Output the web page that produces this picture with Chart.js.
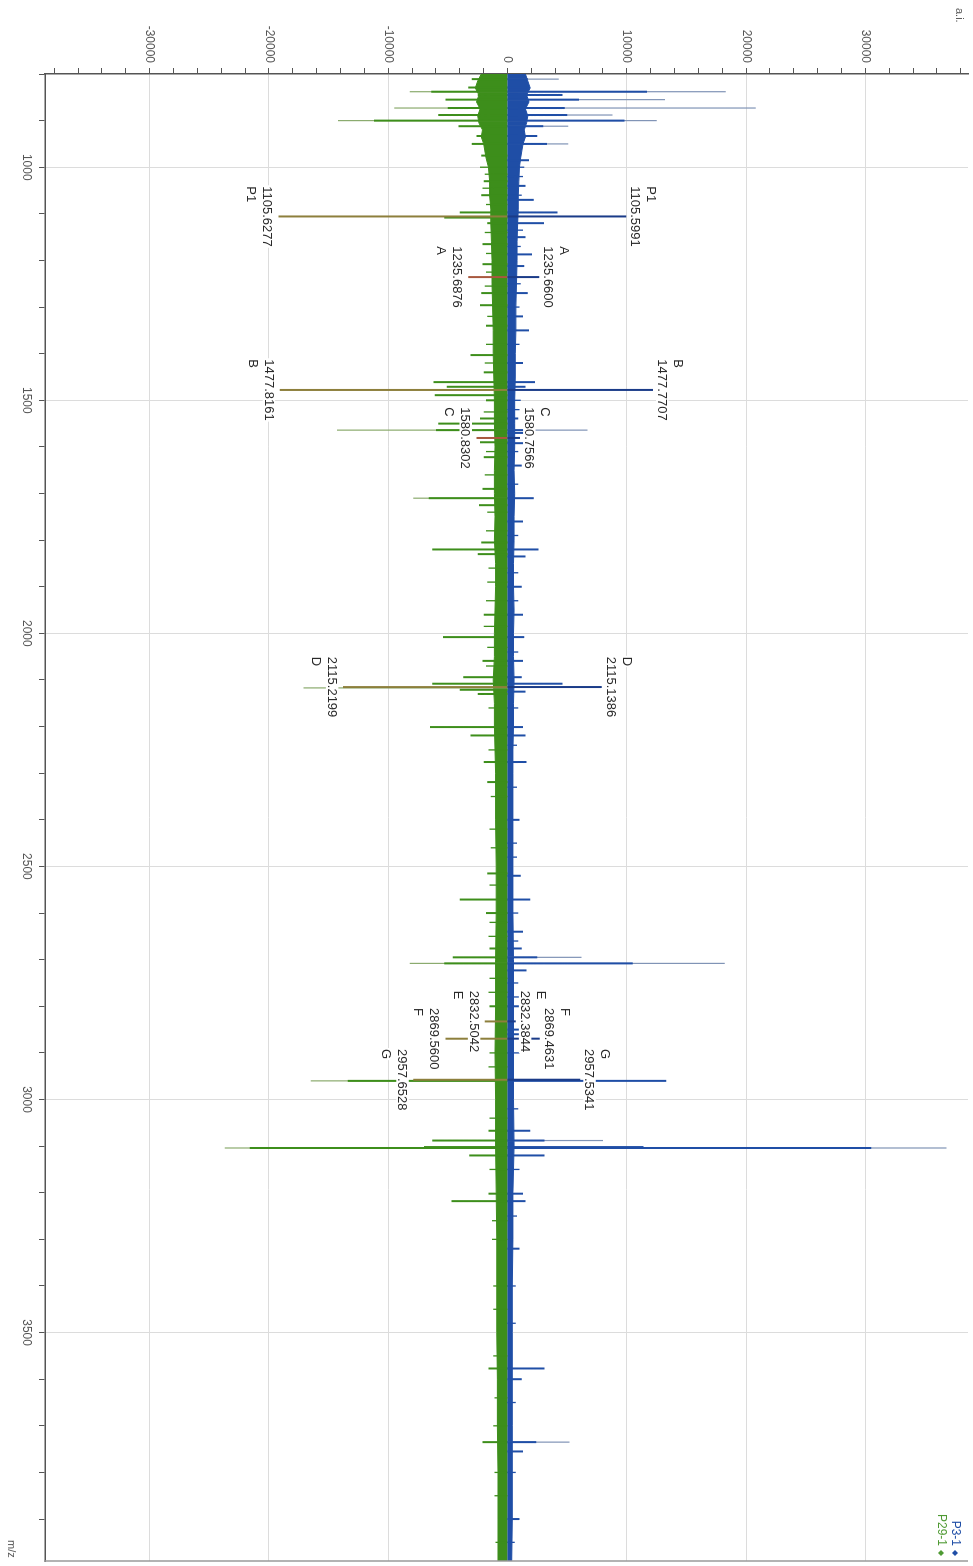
<!DOCTYPE html>
<html><head><meta charset="utf-8">
<script src="https://cdn.jsdelivr.net/npm/chart.js@4.4.0/dist/chart.umd.min.js"></script>
<style>
html,body{margin:0;padding:0;background:#fff;overflow:hidden;width:973px;height:1566px;}
#wrap{position:absolute;left:0;top:0;width:1566px;height:973px;transform-origin:0 0;transform:translate(973px,0) rotate(90deg);background:#fff;}
canvas{display:block;}
</style></head><body>
<div id="wrap"><canvas id="c" width="1566" height="973"></canvas></div>
<script>
// ---------- data ----------
const seriesNames = ['P3-1', 'P29-1'];

// noise band envelope (m/z, intensity)
const noiseMz = [800,815,830,845,860,875,890,905,920,935,950,965,980,1000,1030,1060,1090,1120,1160,1200,1250,1300,1350,1400,1450,1500,1550,1600,1650,1700,1750,1800,1850,1900,1950,2000,2050,2100,2150,2200,2250,2300,2400,2500,2600,2700,2800,2900,3000,3100,3200,3300,3400,3500,3600,3700,3800,3900,3990];
const noiseBlue = [1500,1700,1900,1600,1800,1500,1700,1600,1400,1500,1300,1200,1100,1000,950,900,900,850,800,800,750,700,700,650,650,600,600,600,550,600,550,550,500,500,550,500,500,550,500,500,450,450,450,450,450,500,500,500,500,550,450,450,400,400,400,400,400,400,350];
const noiseGreen = [-2200,-2500,-2700,-2400,-2600,-2300,-2500,-2400,-2100,-2200,-2000,-1900,-1800,-1600,-1500,-1500,-1400,-1400,-1350,-1300,-1300,-1250,-1200,-1200,-1150,-1100,-1100,-1050,-1100,-1100,-1050,-1100,-1000,-1000,-1050,-1100,-1100,-1200,-1100,-1100,-1050,-1000,-1000,-950,-950,-1000,-1000,-1050,-1000,-1000,-950,-900,-900,-900,-850,-850,-800,-800,-800];

// P3-1 (positive) peaks
const blueMz  = [811,829,838,845,855,873,888,900,912,933,950,985,1040,1070,1097,1120,1150,1187,1212,1270,1320,1350,1420,1461,1471,1539,1564,1570,1592,1640,1710,1760,1820,1835,1900,1960,2008,2059,2094,2108,2125,2201,2219,2276,2400,2520,2571,2640,2676,2695,2708,2723,2800,2850,2860,2960,3067,3088,3102,3104,3120,3202,3218,3320,3577,3600,3735,3755,3900];
const blueInt = [1700,1600,11700,4600,6000,4800,5000,9800,3000,2500,3300,1800,1500,2200,4200,3050,1500,2050,1400,1700,1300,1800,1300,2300,1500,900,1800,1500,1400,1200,2200,1300,2600,1500,1200,1300,1400,1300,1200,4600,1500,1300,1500,1600,1000,1100,1900,1300,1200,2500,10500,1600,1100,1800,1500,13300,1900,3100,11400,30500,3100,1300,1500,1000,3100,1200,2400,1300,1000];
const blueTipMz  = [811,838,855,873,888,900,912,950,1564,2695,2708,3088,3104,3735];
const blueTipInt = [4300,18300,13200,20800,8800,12500,5100,5100,6700,6200,18200,8000,36800,5200];
const blueMinorMz  = [1000,1020,1060,1135,1170,1250,1300,1380,1500,1520,1610,1680,1790,1870,1930,2040,2160,2240,2330,2450,2480,2600,2660,2750,2780,2900,3020,3150,3250,3400,3480,3650,3800,3950];
const blueMinorInt = [1400,1300,1200,1300,1100,1100,1000,1000,1100,1000,900,900,900,900,900,900,900,800,800,800,800,900,900,900,1000,1000,900,1000,800,700,700,700,700,600];

// P29-1 (negative) peaks
const greenMz  = [811,829,838,845,855,873,888,900,912,933,950,975,1030,1060,1097,1108,1120,1165,1208,1270,1296,1340,1403,1440,1461,1471,1489,1500,1539,1550,1564,1590,1622,1690,1710,1725,1805,1820,1830,1960,2008,2059,2094,2108,2121,2130,2201,2219,2276,2319,2515,2571,2600,2676,2695,2708,2800,2960,3067,3088,3102,3104,3120,3202,3218,3577,3735];
const greenInt = [-3000,-3300,-6400,-2500,-5200,-5000,-5800,-11200,-4100,-2600,-3000,-2200,-2000,-2200,-4000,-5300,-1700,-2100,-2100,-2200,-2300,-1800,-3100,-2000,-6200,-5100,-6100,-1800,-2300,-5800,-6000,-2300,-2000,-2100,-6600,-2400,-2200,-6300,-2500,-2000,-5400,-2100,-3700,-6300,-4000,-2500,-6500,-3100,-2000,-1700,-1700,-4000,-1800,-1500,-4600,-5300,-1500,-13400,-1600,-6300,-7000,-21600,-3200,-1600,-4700,-1600,-2100];
const greenTipMz  = [838,873,900,1564,1710,2117,2708,2960,3104];
const greenTipInt = [-8200,-9500,-14200,-14300,-7900,-17100,-8200,-16500,-23700];
const greenMinorMz  = [1000,1015,1045,1080,1140,1185,1225,1255,1320,1380,1420,1525,1610,1660,1740,1780,1860,1890,1930,1985,2030,2070,2160,2250,2350,2420,2460,2540,2620,2650,2740,2770,2900,2930,3040,3150,3260,3300,3400,3450,3550,3640,3700,3800,3850,3950];
const greenMinorInt = [-2300,-1900,-2100,-1800,-1900,-1800,-1800,-1900,-1700,-1800,-1900,-2000,-1800,-1900,-1700,-1800,-1600,-1700,-1800,-2000,-1700,-1800,-1600,-1600,-1400,-1500,-1400,-1500,-1500,-1600,-1500,-1600,-1500,-1600,-1500,-1500,-1300,-1300,-1200,-1200,-1200,-1100,-1200,-1100,-1100,-1000];

// annotated peaks
const blueLabelMz   = [1105.5991,1235.6600,1477.7707,1580.7566,2115.1386,2832.3844,2869.4631,2957.5341];
const blueLabelInt  = [9950,2650,12200,1050,7900,700,2700,6100];
const blueLabelTag  = ['P1','A','B','C','D','E','F','G'];
const greenLabelMz  = [1105.6277,1235.6876,1477.8161,1580.8302,2115.2199,2832.5042,2869.5600,2957.6528];
const greenLabelInt = [-19200,-3300,-19100,-2600,-13800,-1900,-5200,-7900];
const greenLabelTag = ['P1','A','B','C','D','E','F','G'];

// axis ranges / ticks
const mzMin = 800, mzMax = 3990, mzStep = 100, mzMajor = 500;
const intMin = -38770, intMax = 38600, intStep = 2000, intMajor = 10000;

// ---------- build ----------
function sticks(mz, val){
  const out = [];
  for (let i = 0; i < mz.length; i++){
    out.push({x: mz[i], y: 0}, {x: mz[i], y: val[i]}, {x: mz[i], y: null});
  }
  return out;
}
function band(mz, val){ return mz.map((m, i) => ({x: m, y: val[i]})); }
function isMajor(v, m){ const q = Number(v) / m; return Math.abs(q - Math.round(q)) < 1e-6; }
function tickValues(min, max, step){
  const out = [];
  for (let k = Math.ceil(min / step); k * step <= max; k++) out.push(k * step);
  return out;
}

const BLUE = '#1f4ea6', BLUE_TIP = '#8094b6', BLUE_LAB = '#1a3b88';
const GREEN = '#3d8e1b', GREEN_TIP = '#8bab6e', OLIVE = '#8d7f3c', RUST = '#a8583e';
const greenLabelColors = greenLabelTag.map(t => (t === 'A' || t === 'C') ? RUST : OLIVE);

const datasets = [
  {label:'bandBlue', data: band(noiseMz, noiseBlue), borderColor: BLUE, backgroundColor: BLUE, borderWidth: 1, fill: 'origin', pointRadius: 0, tension: 0, order: 6},
  {label:'bandGreen', data: band(noiseMz, noiseGreen), borderColor: GREEN, backgroundColor: GREEN, borderWidth: 1, fill: 'origin', pointRadius: 0, tension: 0, order: 6},
  {label:'minorBlue', data: sticks(blueMinorMz, blueMinorInt), borderColor: BLUE, borderWidth: 1.3, fill: false, pointRadius: 0, spanGaps: false, order: 5},
  {label:'minorGreen', data: sticks(greenMinorMz, greenMinorInt), borderColor: GREEN, borderWidth: 1.3, fill: false, pointRadius: 0, spanGaps: false, order: 5},
  {label:'tipBlue', data: sticks(blueTipMz, blueTipInt), borderColor: BLUE_TIP, borderWidth: 1.2, fill: false, pointRadius: 0, spanGaps: false, order: 4},
  {label:'tipGreen', data: sticks(greenTipMz, greenTipInt), borderColor: GREEN_TIP, borderWidth: 1.2, fill: false, pointRadius: 0, spanGaps: false, order: 4},
  {label:'blue', data: sticks(blueMz, blueInt), borderColor: BLUE, borderWidth: 2, fill: false, pointRadius: 0, spanGaps: false, order: 3},
  {label:'green', data: sticks(greenMz, greenInt), borderColor: GREEN, borderWidth: 2, fill: false, pointRadius: 0, spanGaps: false, order: 3},
  {label:'blueLab', data: sticks(blueLabelMz, blueLabelInt), borderColor: BLUE_LAB, borderWidth: 2, fill: false, pointRadius: 0, spanGaps: false, order: 2}
];
greenLabelMz.forEach((m, i) => {
  datasets.push({label:'greenLab'+i, data: sticks([m], [greenLabelInt[i]]), borderColor: greenLabelColors[i], borderWidth: 2, fill: false, pointRadius: 0, spanGaps: false, order: 2});
});

const FONT = '"Liberation Sans", Arial, Helvetica, sans-serif';

const annot = {
  id: 'annot',
  afterDatasetsDraw(chart){
    const {ctx, scales: {x, y}, chartArea: ca} = chart;
    ctx.save();
    ctx.font = '13px ' + FONT;
    ctx.textAlign = 'left';
    ctx.textBaseline = 'alphabetic';
    function put(mz, tip, tag, sign){
      const px = x.getPixelForValue(mz), py = y.getPixelForValue(tip);
      const num = mz.toFixed(4);
      const w = ctx.measureText(num).width, wt = ctx.measureText(tag).width;
      const left = px - w / 2;
      let b1, b2;
      if (sign > 0){ b1 = py - 5; b2 = b1 - 16; }
      else { b1 = py + 15; b2 = b1 + 16; }
      ctx.fillStyle = '#fff';
      ctx.fillRect(left - 1, b1 - 10.5, w + 2, 12.5);
      ctx.fillRect(left - 1, b2 - 10.5, wt + 2, 12.5);
      ctx.fillStyle = '#2a2a2a';
      ctx.fillText(num, left, b1);
      ctx.fillText(tag, left, b2);
    }
    blueLabelMz.forEach((m, i) => put(m, blueLabelInt[i], blueLabelTag[i], 1));
    greenLabelMz.forEach((m, i) => put(m, greenLabelInt[i], greenLabelTag[i], -1));
    // right frame line
    ctx.strokeStyle = '#9a9a9a'; ctx.lineWidth = 1.5;
    ctx.beginPath(); ctx.moveTo(ca.right, ca.top); ctx.lineTo(ca.right, ca.bottom + 1); ctx.stroke();
    // axis titles
    ctx.fillStyle = '#555';
    ctx.font = '11px ' + FONT;
    ctx.textBaseline = 'top';
    ctx.fillText('a.i.', 8, 8);
    ctx.fillText('m/z', 1540, 956);
    // legend
    ctx.font = '12px ' + FONT;
    ctx.textAlign = 'right';
    const legCols = [BLUE, '#4f9a33'];
    seriesNames.forEach((n, i) => {
      const yy = 12 + i * 14;
      ctx.fillStyle = legCols[i];
      ctx.fillText(n, 1546, yy);
      const cx = 1553, cy = yy + 6;
      ctx.beginPath(); ctx.moveTo(cx, cy - 3); ctx.lineTo(cx + 3, cy); ctx.lineTo(cx, cy + 3); ctx.lineTo(cx - 3, cy); ctx.closePath(); ctx.fill();
    });
    ctx.restore();
  }
};

function tickLabel(major){
  return function(value){ return isMajor(value, major) ? String(Math.round(Number(value))) : ''; };
}
function gridCol(major){
  return function(c){ const v = c && c.tick ? c.tick.value : NaN; return isMajor(v, major) ? '#dcdcdc' : 'rgba(0,0,0,0)'; };
}
function noPad(s){ s.paddingTop = 0; s.paddingBottom = 0; s.paddingLeft = 0; s.paddingRight = 0; }

new Chart(document.getElementById('c'), {
  type: 'line',
  data: {datasets},
  plugins: [annot],
  options: {
    responsive: false,
    devicePixelRatio: 1,
    animation: false,
    events: [],
    layout: {padding: {left: 0, right: 5, top: 5, bottom: 0}},
    plugins: {legend: {display: false}, tooltip: {enabled: false}},
    elements: {line: {tension: 0}},
    scales: {
      x: {
        type: 'linear', min: mzMin, max: mzMax,
        afterBuildTicks(s){ s.ticks = tickValues(mzMin, mzMax, mzStep).map(v => ({value: v})); },
        afterFit(s){ s.height = 45; noPad(s); },
        ticks: {autoSkip: false, maxRotation: 0, minRotation: 0, padding: 5, color: '#555', font: {size: 12, family: FONT},
          callback: tickLabel(mzMajor)},
        grid: {drawTicks: true, tickLength: 6, color: gridCol(mzMajor), tickColor: '#555', lineWidth: 1},
        border: {display: true, color: '#555', width: 1.5}
      },
      y: {
        type: 'linear', min: intMin, max: intMax,
        afterBuildTicks(s){ s.ticks = tickValues(intMin, intMax, intStep).map(v => ({value: v})); },
        afterFit(s){ s.width = 74; noPad(s); },
        ticks: {autoSkip: false, padding: 5, color: '#555', font: {size: 12, family: FONT},
          callback: tickLabel(intMajor)},
        grid: {drawTicks: true, tickLength: 6, color: gridCol(intMajor), tickColor: '#555', lineWidth: 1},
        border: {display: true, color: '#555', width: 1.5}
      }
    }
  }
});
</script>
</body></html>
